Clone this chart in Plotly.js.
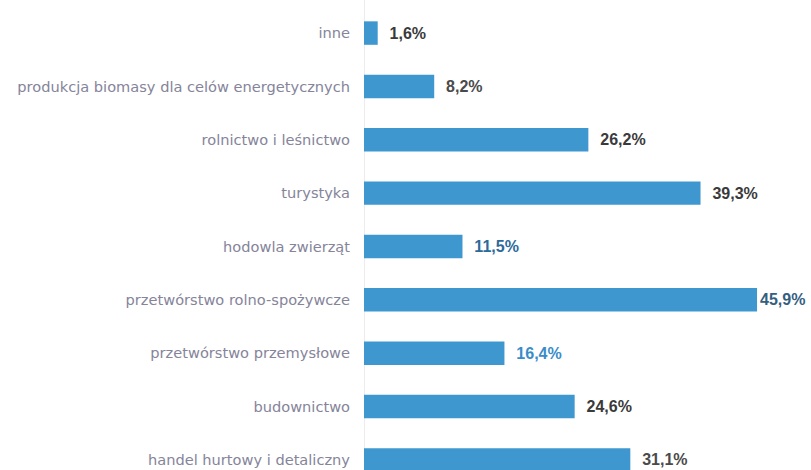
<!DOCTYPE html>
<html>
<head>
<meta charset="utf-8">
<script src="https://cdn.plot.ly/plotly-3.0.1.min.js"></script>
<style>html,body{margin:0;padding:0;background:#fff;}#chart{width:811px;height:470px;}</style>
</head>
<body>
<div id="chart"></div>
<script>
const categories = [
  "inne",
  "produkcja biomasy dla celów energetycznych",
  "rolnictwo i leśnictwo",
  "turystyka",
  "hodowla zwierząt",
  "przetwórstwo rolno-spożywcze",
  "przetwórstwo przemysłowe",
  "budownictwo",
  "handel hurtowy i detaliczny"
];
const values = [1.6, 8.2, 26.2, 39.3, 11.5, 45.9, 16.4, 24.6, 31.1];
const valueColors = ["#3a3a3a","#4a4a4a","#3a3a3a","#3a3a3a","#2c6a9a","#34607f","#3a8cc8","#3a3a3a","#4a4a4a"];

const labels = values.map(v => (v > 45 ? "" : "\u00a0\u00a0") + v.toFixed(1).replace(".", ",") + "%");

const trace = {
  type: "bar",
  orientation: "h",
  y: categories,
  x: values,
  width: 0.44,
  marker: {color: "#3e97cf"},
  text: labels,
  textposition: "outside",
  constraintext: "none",
  cliponaxis: false,
  textfont: {family: "Liberation Sans, sans-serif", size: 16, color: valueColors, weight: 700},
  hoverinfo: "none"
};

const layout = {
  width: 811, height: 470,
  margin: {l: 364, r: 0, t: 0, b: 0, pad: 0},
  paper_bgcolor: "#ffffff",
  plot_bgcolor: "#ffffff",
  showlegend: false,
  xaxis: {
    range: [0, 52.2],
    showgrid: false,
    zeroline: true,
    zerolinecolor: "#ececec",
    zerolinewidth: 1,
    showticklabels: false,
    ticks: ""
  },
  yaxis: {
    type: "category",
    range: [8.19, -0.62],
    showgrid: false,
    zeroline: false,
    ticks: "",
    ticklabelstandoff: 13,
    tickfont: {family: "DejaVu Sans, sans-serif", size: 14.6, color: "#85849a"}
  }
};

Plotly.newPlot("chart", [trace], layout, {displayModeBar: false, staticPlot: true});
</script>
</body>
</html>
